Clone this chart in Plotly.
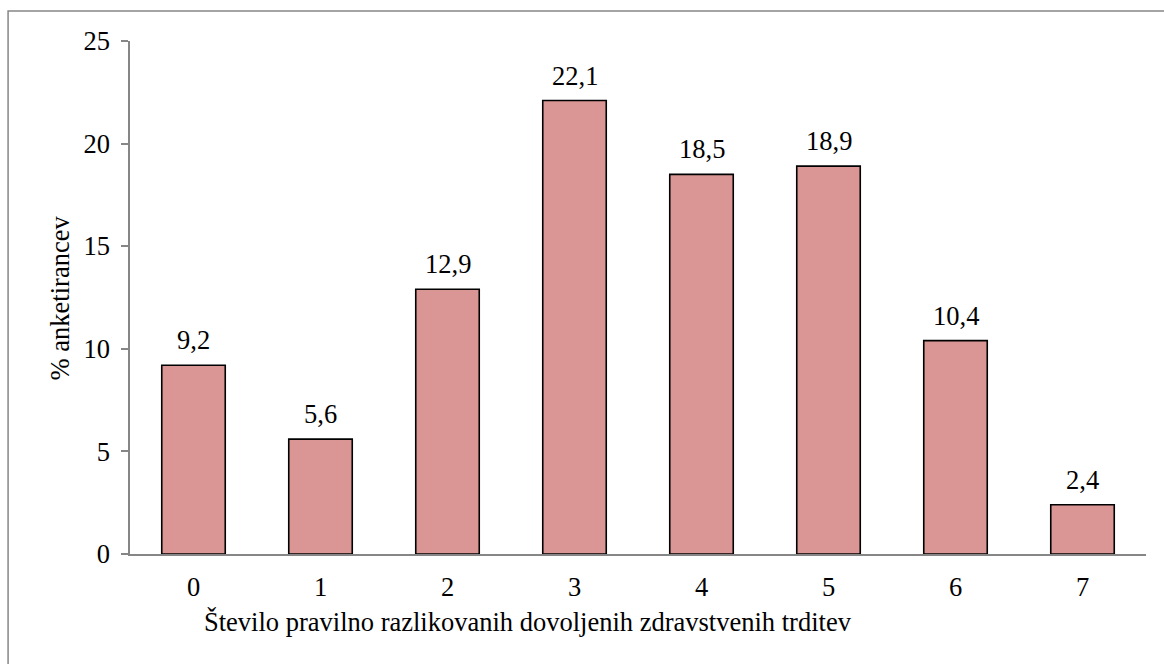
import plotly.graph_objects as go

categories = ["0", "1", "2", "3", "4", "5", "6", "7"]
percent = [9.2, 5.6, 12.9, 22.1, 18.5, 18.9, 10.4, 2.4]
y_ticks = [0, 5, 10, 15, 20, 25]

FONT = "Liberation Serif"
SIZE = 26.5
AXIS_GREY = "#868686"

fig = go.Figure()
fig.add_trace(go.Bar(
    x=categories,
    y=percent,
    marker=dict(color="#D99694", line=dict(color="black", width=1.6)),
    width=0.5,
    hoverinfo="x+y",
))

# value labels above each bar
for c, v in zip(categories, percent):
    fig.add_annotation(
        x=c, y=v, text=f"{v:.1f}".replace(".", ","),
        showarrow=False, yanchor="bottom", yshift=8,
        font=dict(family=FONT, size=SIZE, color="black"),
    )

# axis titles
fig.add_annotation(
    xref="paper", yref="paper", x=0.392, y=-0.132,
    text="Število pravilno razlikovanih dovoljenih zdravstvenih trditev",
    showarrow=False, xanchor="center", yanchor="middle",
    font=dict(family=FONT, size=SIZE, color="black"),
)
fig.add_annotation(
    xref="paper", yref="paper", x=-0.069, y=0.5,
    text="% anketirancev", textangle=-90,
    showarrow=False, xanchor="center", yanchor="middle",
    font=dict(family=FONT, size=SIZE, color="black"),
)

# chart-area frame
fig.add_shape(
    type="rect", xref="paper", yref="paper",
    x0=-0.12, y0=-0.4, x1=1.2, y1=1.0585,
    line=dict(color=AXIS_GREY, width=1.5), fillcolor="rgba(0,0,0,0)",
    layer="below",
)

fig.update_layout(
    width=1164, height=664,
    margin=dict(l=130, r=18, t=41, b=110),
    paper_bgcolor="white", plot_bgcolor="white",
    showlegend=False,
    separators=",.",
    font=dict(family=FONT, size=SIZE, color="black"),
    xaxis=dict(
        type="category",
        showline=True, linecolor=AXIS_GREY, linewidth=1.5,
        ticks="", showgrid=False,
        tickfont=dict(family=FONT, size=SIZE, color="black"),
        ticklabelstandoff=8,
        range=[-0.5, 7.5],
    ),
    yaxis=dict(
        range=[0, 25], tickvals=y_ticks,
        showline=True, linecolor=AXIS_GREY, linewidth=1.5,
        ticks="outside", ticklen=7, tickcolor=AXIS_GREY, tickwidth=1.5,
        showgrid=False, zeroline=False,
        tickfont=dict(family=FONT, size=SIZE, color="black"),
        ticklabelstandoff=6,
    ),
)

fig.write_html("out.html")
